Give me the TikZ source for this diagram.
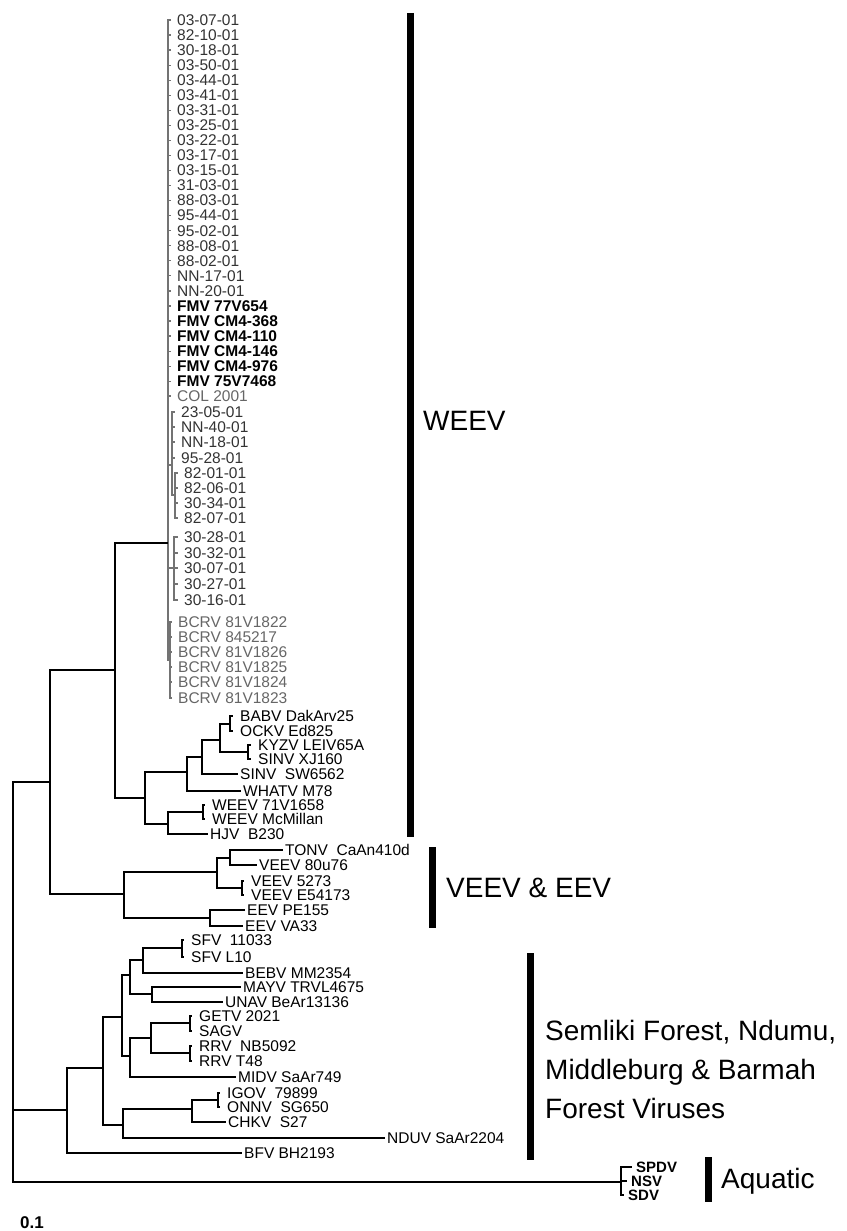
\documentclass[tikz,border=0pt]{standalone}
\usepackage{fontspec}
\setmainfont{Liberation Sans}
\definecolor{grayline}{gray}{0.45}
\definecolor{darktext}{gray}{0.2}
\definecolor{lighttext}{gray}{0.4}
\newcommand{\lf}{\fontsize{15.5}{15.5}\selectfont}
\newcommand{\cf}{\fontsize{28}{39}\selectfont}

\begin{document}
\begin{tikzpicture}[x=1pt, y=-1pt,
    br/.style={line width=2.6pt, line join=miter},
    gbr/.style={line width=1.2pt, draw=grayline},
    leaf/.style={anchor=west, inner xsep=2pt, inner ysep=0pt, font=\lf},
    pair/.style={leaf, inner xsep=7pt},
    cleaf/.style={leaf, inner xsep=6pt, text=darktext},
    cbar/.style={line width=7pt},
    clade/.style={anchor=west, font=\cf, align=left, inner sep=0pt}]
    \useasboundingbox (0,0) rectangle (846,1231);

    % Internal nodes
    \coordinate (root) at (13,983);
    \coordinate (n50) at (50,782);
    \coordinate (n115) at (115,670);
    \coordinate (weev) at (168,543);
    \coordinate (n145) at (145,798);
    \coordinate (n187) at (187,772);
    \coordinate (n202) at (202,757);
    \coordinate (n220) at (220,740);
    \coordinate (t230) at (230,724);
    \coordinate (t248) at (248,752);
    \coordinate (n168) at (168,824);
    \coordinate (t203) at (203,812);
    \coordinate (n124) at (124,894);
    \coordinate (n217) at (217,872);
    \coordinate (n230) at (230,858);
    \coordinate (t242) at (242,888);
    \coordinate (n210) at (210,918);
    \coordinate (n67) at (67,1110);
    \coordinate (n103) at (103,1068);
    \coordinate (n122) at (122,1017);
    \coordinate (n130a) at (130,975);
    \coordinate (n143) at (143,960);
    \coordinate (tsfv) at (182,948);
    \coordinate (n152) at (152,994);
    \coordinate (n130b) at (130,1056);
    \coordinate (n151) at (151,1038);
    \coordinate (tget) at (190,1023);
    \coordinate (trrv) at (190,1053);
    \coordinate (n123) at (123,1125);
    \coordinate (n192) at (192,1109);
    \coordinate (tigo) at (218,1100);
    \coordinate (tq) at (621,1182);

    % WEEV cluster (grey)
    \coordinate (s1) at (172,465);
    \coordinate (s2) at (175,495);
    \coordinate (s3) at (174,568);
    \coordinate (s4) at (170,660);
    \foreach \txt [count=\i from 0] in {03-07-01,82-10-01,30-18-01,03-50-01,03-44-01,03-41-01,03-31-01,03-25-01,03-22-01,03-17-01,03-15-01,31-03-01,88-03-01,95-44-01,95-02-01,88-08-01,88-02-01,NN-17-01,NN-20-01}
        {\node[cleaf] (a\i) at (171,{20+15.05*\i}) {\txt};
         \draw[gbr] (weev) |- (a\i.west);}
    \foreach \txt [count=\i from 19] in {FMV 77V654,FMV CM4-368,FMV CM4-110,FMV CM4-146,FMV CM4-976,FMV 75V7468}
        {\node[cleaf, text=black, font=\lf\bfseries] (a\i) at (171,{20+15.05*\i}) {\txt};
         \draw[gbr] (weev) |- (a\i.west);}
    \node[cleaf, text=lighttext] (col) at (171,396) {COL 2001};
    \draw[gbr] (weev) |- (col.west);
    \foreach \txt/\yy [count=\i] in {23-05-01/412,NN-40-01/427,NN-18-01/442,95-28-01/458}
        {\node[cleaf] (b\i) at (175,\yy) {\txt};
         \draw[gbr] (s1) |- (b\i.west);}
    \foreach \txt/\yy [count=\i] in {82-01-01/473,82-06-01/488,30-34-01/503,82-07-01/518}
        {\node[cleaf] (c\i) at (178,\yy) {\txt};
         \draw[gbr] (s2) |- (c\i.west);}
    \foreach \txt/\yy [count=\i] in {30-28-01/537,30-32-01/553,30-07-01/568,30-27-01/584,30-16-01/600}
        {\node[cleaf] (d\i) at (178,\yy) {\txt};
         \draw[gbr] (s3) |- (d\i.west);}
    \foreach \txt/\yy [count=\i] in {BCRV 81V1822/622,BCRV 845217/637,BCRV 81V1826/652,BCRV 81V1825/667,BCRV 81V1824/682,BCRV 81V1823/698}
        {\node[cleaf, text=lighttext] (e\i) at (172,\yy) {\txt};
         \draw[gbr] (s4) |- (e\i.west);}
    \draw[gbr] (weev) |- (s1) (s1) |- (s2) (weev) |- (s3) (weev) |- (s4);

    % Leaves
    \node[pair] (babv) at (233,716) {BABV DakArv25};
    \node[pair] (ockv) at (233,731) {OCKV Ed825};
    \node[pair] (kyzv) at (251,745) {KYZV LEIV65A};
    \node[pair] (sinvx) at (251,759) {SINV XJ160};
    \node[leaf] (sinvs) at (238,774) {SINV\ \ SW6562};
    \node[leaf] (whatv) at (241,791) {WHATV M78};
    \node[pair] (weev71) at (205,805) {WEEV 71V1658};
    \node[pair] (weevmc) at (205,819) {WEEV McMillan};
    \node[leaf] (hjv) at (208,834) {HJV\ \ B230};
    \node[leaf] (tonv) at (283,850) {TONV\ \ CaAn410d};
    \node[leaf] (veev80) at (257,865) {VEEV 80u76};
    \node[pair] (veev52) at (244,881) {VEEV 5273};
    \node[pair] (veevE) at (244,895) {VEEV E54173};
    \node[leaf] (eevpe) at (245,910) {EEV PE155};
    \node[leaf] (eevva) at (243,926) {EEV VA33};
    \node[pair] (sfv1) at (184,940) {SFV\ \ 11033};
    \node[pair] (sfv2) at (184,957) {SFV L10};
    \node[leaf] (bebv) at (243,973) {BEBV MM2354};
    \node[leaf] (mayv) at (241,987) {MAYV TRVL4675};
    \node[leaf] (unav) at (223,1002) {UNAV BeAr13136};
    \node[pair] (getv) at (192,1016) {GETV 2021};
    \node[pair] (sagv) at (192,1031) {SAGV};
    \node[pair] (rrv1) at (192,1046) {RRV\ \ NB5092};
    \node[pair] (rrv2) at (192,1061) {RRV T48};
    \node[leaf] (midv) at (236,1077) {MIDV SaAr749};
    \node[pair] (igov) at (220,1093) {IGOV\ \ 79899};
    \node[pair] (onnv) at (220,1107) {ONNV\ \ SG650};
    \node[leaf] (chkv) at (226,1122) {CHKV\ \ S27};
    \node[leaf] (nduv) at (385,1138) {NDUV SaAr2204};
    \node[leaf] (bfv) at (242,1153) {BFV BH2193};
    \node[leaf, font=\fontsize{15}{15}\selectfont\bfseries, inner xsep=4pt] (spdv) at (632,1167) {SPDV};
    \node[leaf, font=\fontsize{15}{15}\selectfont\bfseries, inner xsep=4pt] (nsv) at (627,1181) {NSV};
    \node[leaf, font=\fontsize{15}{15}\selectfont\bfseries, inner xsep=4pt] (sdv) at (624,1195) {SDV};

    % Branches
    \draw[br] (root) |- (n50) (root) |- (n67) (root) |- (tq);
    \draw[br] (n50) |- (n115) (n50) |- (n124);
    \draw[br] (n115) |- (weev) (n115) |- (n145);
    \draw[br] (n145) |- (n187) (n145) |- (n168);
    \draw[br] (n187) |- (n202) (n187) |- (whatv.west);
    \draw[br] (n202) |- (n220) (n202) |- (sinvs.west);
    \draw[br] (n220) |- (t230) (n220) |- (t248);
    \draw[br] (t230) |- (babv.west) (t230) |- (ockv.west);
    \draw[br] (t248) |- (kyzv.west) (t248) |- (sinvx.west);
    \draw[br] (n168) |- (t203) (n168) |- (hjv.west);
    \draw[br] (t203) |- (weev71.west) (t203) |- (weevmc.west);
    \draw[br] (n124) |- (n217) (n124) |- (n210);
    \draw[br] (n217) |- (n230) (n217) |- (t242);
    \draw[br] (n230) |- (tonv.west) (n230) |- (veev80.west);
    \draw[br] (t242) |- (veev52.west) (t242) |- (veevE.west);
    \draw[br] (n210) |- (eevpe.west) (n210) |- (eevva.west);
    \draw[br] (n67) |- (n103) (n67) |- (bfv.west);
    \draw[br] (n103) |- (n122) (n103) |- (n123);
    \draw[br] (n122) |- (n130a) (n122) |- (n130b);
    \draw[br] (n130a) |- (n143) (n130a) |- (n152);
    \draw[br] (n143) |- (tsfv) (n143) |- (bebv.west);
    \draw[br] (tsfv) |- (sfv1.west) (tsfv) |- (sfv2.west);
    \draw[br] (n152) |- (mayv.west) (n152) |- (unav.west);
    \draw[br] (n130b) |- (n151) (n130b) |- (midv.west);
    \draw[br] (n151) |- (tget) (n151) |- (trrv);
    \draw[br] (tget) |- (getv.west) (tget) |- (sagv.west);
    \draw[br] (trrv) |- (rrv1.west) (trrv) |- (rrv2.west);
    \draw[br] (n123) |- (n192) (n123) |- (nduv.west);
    \draw[br] (n192) |- (tigo) (n192) |- (chkv.west);
    \draw[br] (tigo) |- (igov.west) (tigo) |- (onnv.west);
    \draw[br] (tq) |- (spdv.west) (tq) |- (nsv.west) (tq) |- (sdv.west);

    % Clade bars
    \draw[cbar] (410,13) -- (410,837);
    \node[clade] (weevlab) at (423,421) {WEEV};
    \draw[cbar] (432,847) -- (432,928);
    \node[clade] (veevlab) at (446,888) {VEEV \& EEV};
    \draw[cbar] (530,953) -- (530,1160);
    \node[clade] (sflab) at (545,1069) {Semliki Forest, Ndumu,\\Middleburg \& Barmah\\Forest Viruses};
    \draw[cbar] (708,1157) -- (708,1202);
    \node[clade] (aqlab) at (721,1181) {Aquatic};

    % Scale
    \node[anchor=west, inner sep=0pt, font=\fontsize{17}{17}\selectfont\bfseries] (scale) at (20,1223) {0.1};
\end{tikzpicture}
\end{document}
